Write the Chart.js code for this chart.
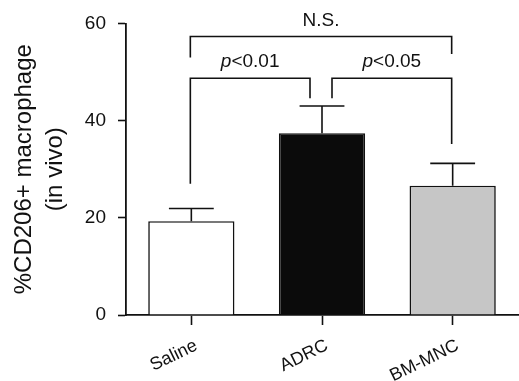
<!DOCTYPE html>
<html><head><meta charset="utf-8">
<script src="https://cdn.jsdelivr.net/npm/chart.js@4/dist/chart.umd.min.js"></script>
<style>html,body{margin:0;padding:0;background:#fff}#wrap{width:519px;height:381px}</style>
</head><body><div id="wrap"><canvas id="c" width="519" height="381"></canvas></div>
<script>
const categories = ['Saline', 'ADRC', 'BM-MNC'];
const means = [19.3, 37.4, 26.6];
const sems = [2.6, 5.6, 4.6];
const yTicks = [0, 20, 40, 60];
const barColors = ['#ffffff', '#0b0b0b', '#c6c6c6'];
// significance brackets (category indices and value levels)
const bracketFrom = [0, 0, 1];
const bracketTo = [2, 1, 2];
const bracketLevel = [57.3, 48.7, 48.7];
const bracketLeftEnd = [53.0, 27.0, 44.6];
const bracketRightEnd = [53.7, 44.6, 35.2];
const bracketItalic = ['', 'p', 'p'];
const bracketText = ['N.S.', '<0.01', '<0.05'];

const FONT = '"Liberation Sans", Arial, Helvetica, sans-serif';
const INK = '#111111';

const annot = {
  id: 'annot',
  afterDatasetsDraw(chart) {
    const {ctx, scales: {x, y}} = chart;
    const meta = chart.getDatasetMeta(0);
    ctx.save();
    ctx.strokeStyle = INK;
    ctx.lineWidth = 1.6;
    ctx.lineCap = 'butt';
    meta.data.forEach((bar, i) => {
      const cx = bar.x;
      const top = y.getPixelForValue(means[i]);
      const et = y.getPixelForValue(means[i] + sems[i]);
      const half = bar.width * 0.26;
      ctx.beginPath();
      ctx.moveTo(cx, top); ctx.lineTo(cx, et);
      ctx.moveTo(cx - half, et); ctx.lineTo(cx + half, et);
      ctx.stroke();
    });
    const gap = 11;
    for (let b = 0; b < bracketFrom.length; b++) {
      const f = bracketFrom[b], t = bracketTo[b], lv = bracketLevel[b];
      let lOff = 0, rOff = 0;
      for (let o = 0; o < bracketFrom.length; o++) {
        if (o === b || bracketLevel[o] !== lv) continue;
        if (bracketTo[o] === f) lOff = gap;
        if (bracketFrom[o] === t) rOff = -gap;
      }
      const xl = x.getPixelForValue(f) + lOff - 1;
      const xr = x.getPixelForValue(t) + rOff - 1;
      const yl = y.getPixelForValue(lv);
      ctx.beginPath();
      ctx.moveTo(xl, y.getPixelForValue(bracketLeftEnd[b]));
      ctx.lineTo(xl, yl);
      ctx.lineTo(xr, yl);
      ctx.lineTo(xr, y.getPixelForValue(bracketRightEnd[b]));
      ctx.stroke();
      // label
      const it = bracketItalic[b], tx = bracketText[b];
      ctx.fillStyle = INK;
      ctx.textBaseline = 'alphabetic';
      ctx.textAlign = 'left';
      ctx.font = 'italic 19px ' + FONT;
      const w1 = it ? ctx.measureText(it).width : 0;
      ctx.font = '19px ' + FONT;
      const w2 = ctx.measureText(tx).width;
      const cx = (xl + xr) / 2;
      const by = yl - 11;
      let sx = cx - (w1 + w2) / 2;
      if (it) {
        ctx.font = 'italic 19px ' + FONT;
        ctx.fillText(it, sx, by);
        sx += w1;
      }
      ctx.font = '19px ' + FONT;
      ctx.fillText(tx, sx, by);
    }
    ctx.restore();
  }
};

new Chart(document.getElementById('c'), {
  type: 'bar',
  data: {
    labels: categories,
    datasets: [{
      data: means,
      backgroundColor: barColors,
      borderColor: INK,
      borderWidth: 1.6,
      borderSkipped: 'start',
      categoryPercentage: 1.0,
      barPercentage: 0.66
    }]
  },
  options: {
    responsive: false,
    animation: false,
    devicePixelRatio: 1,
    layout: {padding: {top: 22, right: 1, left: 0, bottom: 0}},
    plugins: {legend: {display: false}, tooltip: {enabled: false}},
    scales: {
      x: {
        grid: {display: true, drawOnChartArea: false, offset: false, tickLength: 10, tickColor: INK, tickWidth: 1.6},
        border: {display: true, color: INK, width: 1.8},
        ticks: {
          color: INK, font: {family: FONT, size: 18}, minRotation: 26, maxRotation: 26,
          autoSkip: false, padding: 10, labelOffset: 5
        },
        afterFit(s) { s.height = 66; }
      },
      y: {
        min: 0, max: 60,
        afterBuildTicks(s) { s.ticks = yTicks.map(v => ({value: v})); },
        grid: {display: true, drawOnChartArea: false, tickLength: 8, tickColor: INK, tickWidth: 1.6},
        border: {display: true, color: INK, width: 1.8},
        ticks: {color: INK, font: {family: FONT, size: 19}, padding: 12},
        title: {
          display: true,
          text: ['%CD206+ macrophage', '(in vivo)'],
          color: INK,
          font: {family: FONT, size: 24, lineHeight: 1.3},
          padding: {top: 9, bottom: 0}
        },
        afterFit(s) { s.width = 126; }
      }
    }
  },
  plugins: [annot]
});
</script>
</body></html>
